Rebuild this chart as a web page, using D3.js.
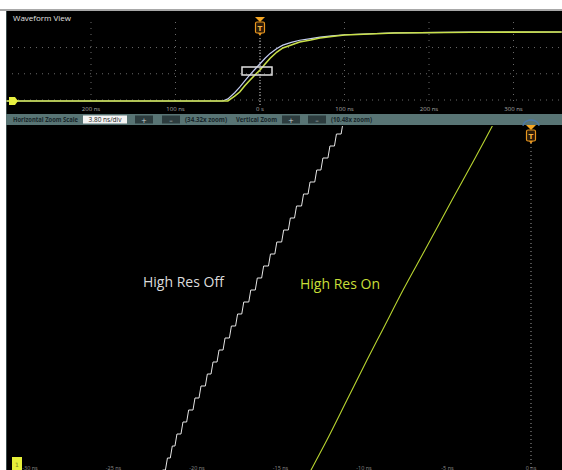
<!DOCTYPE html>
<html>
<head>
<meta charset="utf-8">
<script src="https://cdn.jsdelivr.net/npm/d3@7"></script>
<style>
  body { margin: 0; background: #fff; }
  svg { display: block; }
</style>
</head>
<body>
<script>
// overview trace (time in ns, level 0..1)
const ovTime = [-300, -44, -38, -30, -24, -18, -12, -6, 0, 6, 12, 20, 27, 37, 47, 60, 71, 85, 100, 130, 159, 250, 357];
const ovOn   = [0, 0, 0, 0.07, 0.13, 0.22, 0.30, 0.377, 0.45, 0.536, 0.62, 0.71, 0.77, 0.81, 0.855, 0.884, 0.913, 0.935, 0.957, 0.971, 0.986, 0.996, 1];
const ovOff  = [0, 0, 0.03, 0.12, 0.20, 0.29, 0.38, 0.46, 0.54, 0.62, 0.69, 0.76, 0.81, 0.85, 0.88, 0.905, 0.925, 0.945, 0.96, 0.975, 0.988, 0.997, 1];
const ovTicks = [-200, -100, 0, 100, 200, 300];
const ovTickLabels = ["200 ns", "100 ns", "0 s", "100 ns", "200 ns", "300 ns"];

// zoomed view: High Res Off = times (ns) where ADC code steps up by one, starting at code -1
const offStepTimes = [-22.18, -21.89, -21.60, -21.32, -20.96, -20.62, -20.24, -19.88, -19.50, -19.16, -18.80,
  -18.44, -18.06, -17.69, -17.32, -16.90, -16.51, -16.13, -15.72, -15.34, -14.93, -14.53, -14.16,
  -13.74, -13.35, -12.95, -12.58, -12.16, -11.77, -11.37];
// High Res On (time ns, level in ADC codes)
const onTime  = [-13.8, -13.17, -12.22, -11.02, -9.82, -8.89, -7.66, -6.35, -4.73, -3.41, -2.22, -1.8];
const onCode  = [-1.75, 0, 2.5, 5.83, 9.17, 11.67, 15.0, 18.33, 22.5, 25.83, 28.92, 30.0];
const mainTicks = [-30, -25, -20, -15, -10, -5, 0];

const W = 562, H = 470;
const svg = d3.select("body").append("svg").attr("width", W).attr("height", H);

//bakgrund
svg.append("rect").attr("x", 0).attr("y", 9).attr("width", W).attr("height", 2).attr("fill", "#a8a8a8");
svg.append("rect").attr("x", 6).attr("y", 11).attr("width", W - 6).attr("height", H - 11).attr("fill", "#000");
svg.append("rect").attr("x", 6).attr("y", 11).attr("width", 1).attr("height", H - 11).attr("fill", "#3a4a4a");

svg.append("text").attr("x", 13).attr("y", 21).text("Waveform View")
  .attr("font-family", "Open Sans").attr("font-size", 8).attr("fill", "#e0e0e0");

// ---- overview ----
const ovX = d3.scaleLinear().domain([0, 100]).range([260, 344.5]);
const ovY = d3.scaleLinear().domain([0, 1]).range([101, 32]);

const grid = svg.append("g").attr("stroke", "#6a6a6a").attr("stroke-width", 1).attr("stroke-dasharray", "1,5");
ovTicks.forEach(t => {
  grid.append("line").attr("x1", ovX(t)).attr("x2", ovX(t)).attr("y1", 22).attr("y2", 104);
});
[0.76, 0.38, 0.0].forEach(v => {
  grid.append("line").attr("x1", 12).attr("x2", W).attr("y1", ovY(v) - 1).attr("y2", ovY(v) - 1);
});
// trigger line
svg.append("line").attr("x1", ovX(0)).attr("x2", ovX(0)).attr("y1", 38).attr("y2", 106)
  .attr("stroke", "#d8d8d8").attr("stroke-dasharray", "1,2");

svg.selectAll(".ovlab").data(ovTicks).join("text")
  .attr("x", d => ovX(d)).attr("y", 111).attr("text-anchor", "middle")
  .attr("font-family", "Open Sans").attr("font-size", 6).attr("fill", "#a8a8a8")
  .text((d, i) => ovTickLabels[i]);

const ovLine = d3.line().x(d => ovX(d[0])).y(d => ovY(d[1]));
svg.append("path").attr("d", ovLine(ovTime.map((t, i) => [t, ovOff[i]])))
  .attr("fill", "none").attr("stroke", "#c4cdf2").attr("stroke-width", 1.2);
svg.append("path").attr("d", ovLine(ovTime.map((t, i) => [t, ovOn[i]])))
  .attr("fill", "none").attr("stroke", "#c9e04a").attr("stroke-width", 1.6);

// left marker
svg.append("path").attr("d", "M9,97 h6 l3,4 l-3,4 h-6 z").attr("fill", "#e8f040");

// zoom box
svg.append("rect").attr("x", 242).attr("y", 67).attr("width", 30).attr("height", 8)
  .attr("fill", "none").attr("stroke", "#e0e0e0").attr("stroke-width", 1.5);

function trigger(cx, y0) {
  const g = svg.append("g");
  g.append("path").attr("d", `M${cx - 5},${y0} h10 l-5,5 z`).attr("fill", "#f5a623");
  g.append("rect").attr("x", cx - 4.5).attr("y", y0 + 5).attr("width", 9).attr("height", 11).attr("rx", 1.5)
    .attr("fill", "#2a1a08").attr("stroke", "#e8961e").attr("stroke-width", 1.2);
  g.append("text").attr("x", cx).attr("y", y0 + 13.5).attr("text-anchor", "middle")
    .attr("font-family", "DejaVu Sans").attr("font-size", 7).attr("font-weight", "bold").attr("fill", "#f5b040").text("T");
  g.append("path").attr("d", `M${cx - 2},${y0 + 16} h4 l-2,3 z`).attr("fill", "#e8961e");
}
trigger(260, 17);

// ---- control bar ----
svg.append("rect").attr("x", 6).attr("y", 114).attr("width", W - 6).attr("height", 11).attr("fill", "#587474");
const bar = svg.append("g").attr("font-family", "Open Sans").attr("font-size", 6.5).attr("font-weight", "bold").attr("fill", "#17262a");
bar.append("text").attr("x", 13).attr("y", 122).attr("textLength", 65).attr("lengthAdjust", "spacingAndGlyphs").text("Horizontal Zoom Scale");
svg.append("rect").attr("x", 83).attr("y", 115.5).attr("width", 44).attr("height", 8).attr("fill", "#f4f4f4");
svg.append("text").attr("x", 105).attr("y", 122).attr("text-anchor", "middle").text("3.80 ns/div")
  .attr("font-family", "Open Sans").attr("font-size", 6.5).attr("fill", "#222");
[[135, "+"], [162, "\u2013"], [282, "+"], [308, "\u2013"]].forEach(b => {
  svg.append("rect").attr("x", b[0]).attr("y", 115.5).attr("width", 18).attr("height", 8).attr("fill", "#2c3c3e");
  svg.append("text").attr("x", b[0] + 9).attr("y", 122.5).attr("text-anchor", "middle").text(b[1])
    .attr("font-family", "DejaVu Sans").attr("font-size", 7).attr("fill", "#c8d4d4");
});
bar.append("text").attr("x", 185).attr("y", 122).attr("textLength", 42).attr("lengthAdjust", "spacingAndGlyphs").text("(34.32x zoom)");
bar.append("text").attr("x", 236).attr("y", 122).attr("textLength", 41).attr("lengthAdjust", "spacingAndGlyphs").text("Vertical Zoom");
bar.append("text").attr("x", 331).attr("y", 122).attr("textLength", 41).attr("lengthAdjust", "spacingAndGlyphs").text("(10.48x zoom)");

// ---- main zoomed view ----
const mainX = d3.scaleLinear().domain([-5, 0]).range([447.5, 531]);
const mainY = d3.scaleLinear().domain([0, 1]).range([470, 458]);

svg.append("defs").append("clipPath").attr("id", "mainclip")
  .append("rect").attr("x", 7).attr("y", 126).attr("width", W - 7).attr("height", H - 126);

svg.append("line").attr("x1", mainX(0)).attr("x2", mainX(0)).attr("y1", 143).attr("y2", H)
  .attr("stroke", "#9a9a9a").attr("stroke-dasharray", "1,3");

const rise = 0.12;
const offPts = [[-23, -1]];
offStepTimes.forEach((t, i) => {
  offPts.push([t, i - 1]);
  offPts.push([t + rise, i]);
});
offPts.push([-10, offStepTimes.length - 1]);

const mainLine = d3.line().x(d => mainX(d[0])).y(d => mainY(d[1]));
const traces = svg.append("g").attr("clip-path", "url(#mainclip)");
traces.append("path").attr("d", mainLine(offPts))
  .attr("fill", "none").attr("stroke", "#e6e6e6").attr("stroke-width", 1);
traces.append("path").attr("d", mainLine.curve(d3.curveMonotoneX)(onTime.map((t, i) => [t, onCode[i]])))
  .attr("fill", "none").attr("stroke", "#b8d430").attr("stroke-width", 1.1);

// blue glow + trigger at top
svg.append("path").attr("d", "M523,126 a8,6 0 0 1 16,0").attr("fill", "none").attr("stroke", "#4a7ab8").attr("stroke-width", 1.5).attr("opacity", 0.8);
trigger(531, 125);

svg.append("text").attr("x", 143).attr("y", 287).text("High Res Off")
  .attr("font-family", "Open Sans").attr("font-size", 14).attr("fill", "#dcdcdc");
svg.append("text").attr("x", 300).attr("y", 289).text("High Res On")
  .attr("font-family", "Open Sans").attr("font-size", 14).attr("fill", "#c8df38");

svg.selectAll(".mlab").data(mainTicks).join("text")
  .attr("x", d => mainX(d)).attr("y", 469.5).attr("text-anchor", "middle")
  .attr("font-family", "Open Sans").attr("font-size", 5.5).attr("fill", "#8a8a8a")
  .text(d => d + " ns");

// bottom-left marker
svg.append("rect").attr("x", 12).attr("y", 457).attr("width", 10).attr("height", 13).attr("fill", "#e6f03a");
svg.append("text").attr("x", 17).attr("y", 467).attr("text-anchor", "middle").text("1")
  .attr("font-family", "DejaVu Sans").attr("font-size", 6).attr("fill", "#7a8020");
</script>
</body>
</html>
